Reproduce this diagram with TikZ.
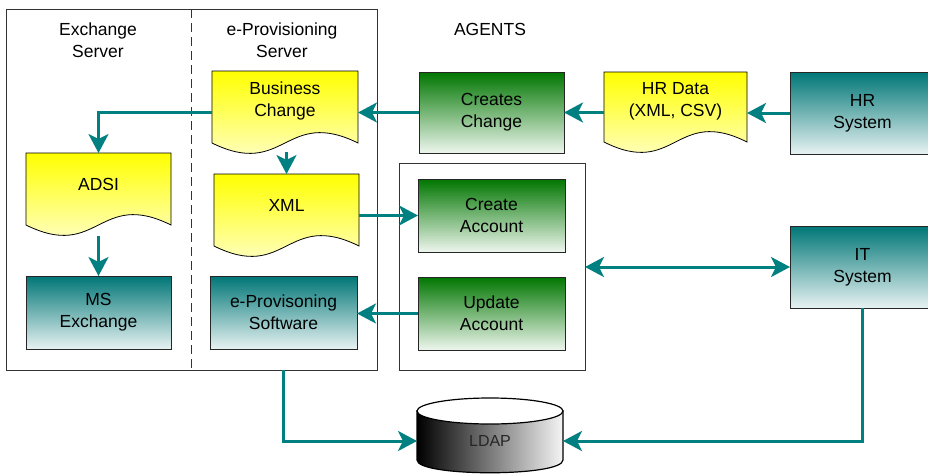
\documentclass[tikz,border=0pt]{standalone}
\usepackage{fontspec}
\setmainfont{Liberation Sans}
\usetikzlibrary{arrows.meta,calc}
\definecolor{tealarrow}{RGB}{0,128,128}
\definecolor{greentop}{RGB}{0,118,0}
\definecolor{greenbot}{RGB}{238,246,238}
\definecolor{tealtop}{RGB}{0,118,118}
\definecolor{tealbot}{RGB}{232,242,242}
\definecolor{yeltop}{RGB}{255,255,0}
\definecolor{yelbot}{RGB}{255,255,238}
\tikzset{
 every node/.style={font=\fontsize{17.5}{22}\selectfont, align=center, inner sep=0pt, outer sep=0pt},
 box/.style={draw=black!85, line width=0.8pt, minimum width=145pt, minimum height=73pt},
 greenbox/.style={box, top color=greentop, bottom color=greenbot},
 tealbox/.style={box, top color=tealtop, bottom color=tealbot},
 frame/.style={draw=black!80, line width=1pt},
 docarea/.style={minimum width=145pt, minimum height=72pt},
 docshape/.style={draw=black, line width=0.8pt, top color=yeltop, bottom color=yelbot},
 conn/.style={draw=tealarrow, line width=3pt},
 arr/.style={conn, -{Stealth[length=19pt,width=20pt,inset=5pt]}},
 dblarr/.style={conn, {Stealth[length=19pt,width=20pt,inset=5pt]}-{Stealth[length=19pt,width=20pt,inset=5pt]}},
}
\newcommand\docpath[2]{%
 \path[docshape] (#1.north west) -- (#1.north east) -- (#1.south east)
   .. controls ($(#1.south)+(0,-#2)$) and ($(#1.south)+(0,#2)$) .. (#1.south west) -- cycle;}
\begin{document}
\begin{tikzpicture}[x=1pt,y=-1pt]
\useasboundingbox (0,0) rectangle (928,474);
\clip (0,0) rectangle (928,474);
\fill[white] (0,0) rectangle (928,474);

% frames
\node[frame, minimum width=371pt, minimum height=361pt] (lb) at (191.5,189.5) {};
\draw[draw=black!80, line width=1pt, dash pattern=on 9pt off 5pt] (lb.north) -- (lb.south);
\node[frame, minimum width=186pt, minimum height=207pt] (ag) at (492,266.5) {};

% headings
\node (exs) at (98,40) {Exchange\\Server};
\node (epsl) at (282,40) {e-Provisioning\\Server};
\node (agl) at (490,29) {AGENTS};

% documents
\node[docarea, minimum width=146pt] (bc) at (285,107) {};
\docpath{bc}{36}
\node (bct) at (285,101) {Business\\Change};

\node[docarea] (adsi) at (98.5,189) {};
\docpath{adsi}{36}
\node (adsit) at (98.5,184) {ADSI};

\node[docarea] (xml) at (286.5,210) {};
\docpath{xml}{36}
\node (xmlt) at (286.5,205) {XML};

\node[docarea, minimum width=143pt, minimum height=70pt] (hrd) at (675.5,107) {};
\docpath{hrd}{36}
\node (hrdt) at (675.5,101.5) {HR Data\\(XML, CSV)};

% boxes
\node[tealbox] (ms) at (98.5,312.5) {MS\\Exchange};
\node[tealbox, minimum width=147pt] (eps) at (283.5,312.5) {e-Provisoning\\Software};
\node[greenbox, minimum height=81pt] (cc) at (491.5,112.5) {Creates\\Change};
\node[greenbox, minimum width=147pt] (ca) at (491.5,215.5) {Create\\Account};
\node[greenbox, minimum width=147pt] (ua) at (491.5,313.5) {Update\\Account};
\node[tealbox, minimum height=82pt] (hrs) at (862.5,113) {HR\\System};
\node[tealbox, minimum height=82pt] (its) at (862.5,267) {IT\\System};

% LDAP cylinder
\path[shading=axis, left color=black, right color=white!96!black, draw=black, line width=1.2pt]
  (417,411) -- (417,460) .. controls (417,477) and (563,477) .. (563,460) -- (563,411) -- cycle;
\draw[fill=white, line width=1.2pt] (490,411) ellipse [x radius=73, y radius=13];
\node[minimum width=146pt, text=black!85, font=\fontsize{16}{19}\selectfont] (ldap) at (490,441) {LDAP};

% connectors
\draw[arr] (hrs.west) -- (hrs.west -| hrd.east);
\draw[arr] (cc.east -| hrd.west) -- (cc.east);
\draw[arr] (cc.west) -- (cc.west -| bc.east);
\draw[arr] (cc.west -| bc.west) -| (adsi.north);
\draw[arr] ($(bc.south -| xml.north)+(0,9)$) -- (xml.north);
\draw[arr] ($(adsi.south)+(0,11)$) -- (ms.north);
\draw[arr] (ca.west -| xml.east) -- (ca.west);
\draw[arr] (ua.west) -- (ua.west -| eps.east);
\draw[dblarr] (its.west -| ag.east) -- (its.west);
\draw[arr] (eps.south |- lb.south) |- (ldap.west);
\draw[arr] (its.south) |- (ldap.east);
\end{tikzpicture}
\end{document}
